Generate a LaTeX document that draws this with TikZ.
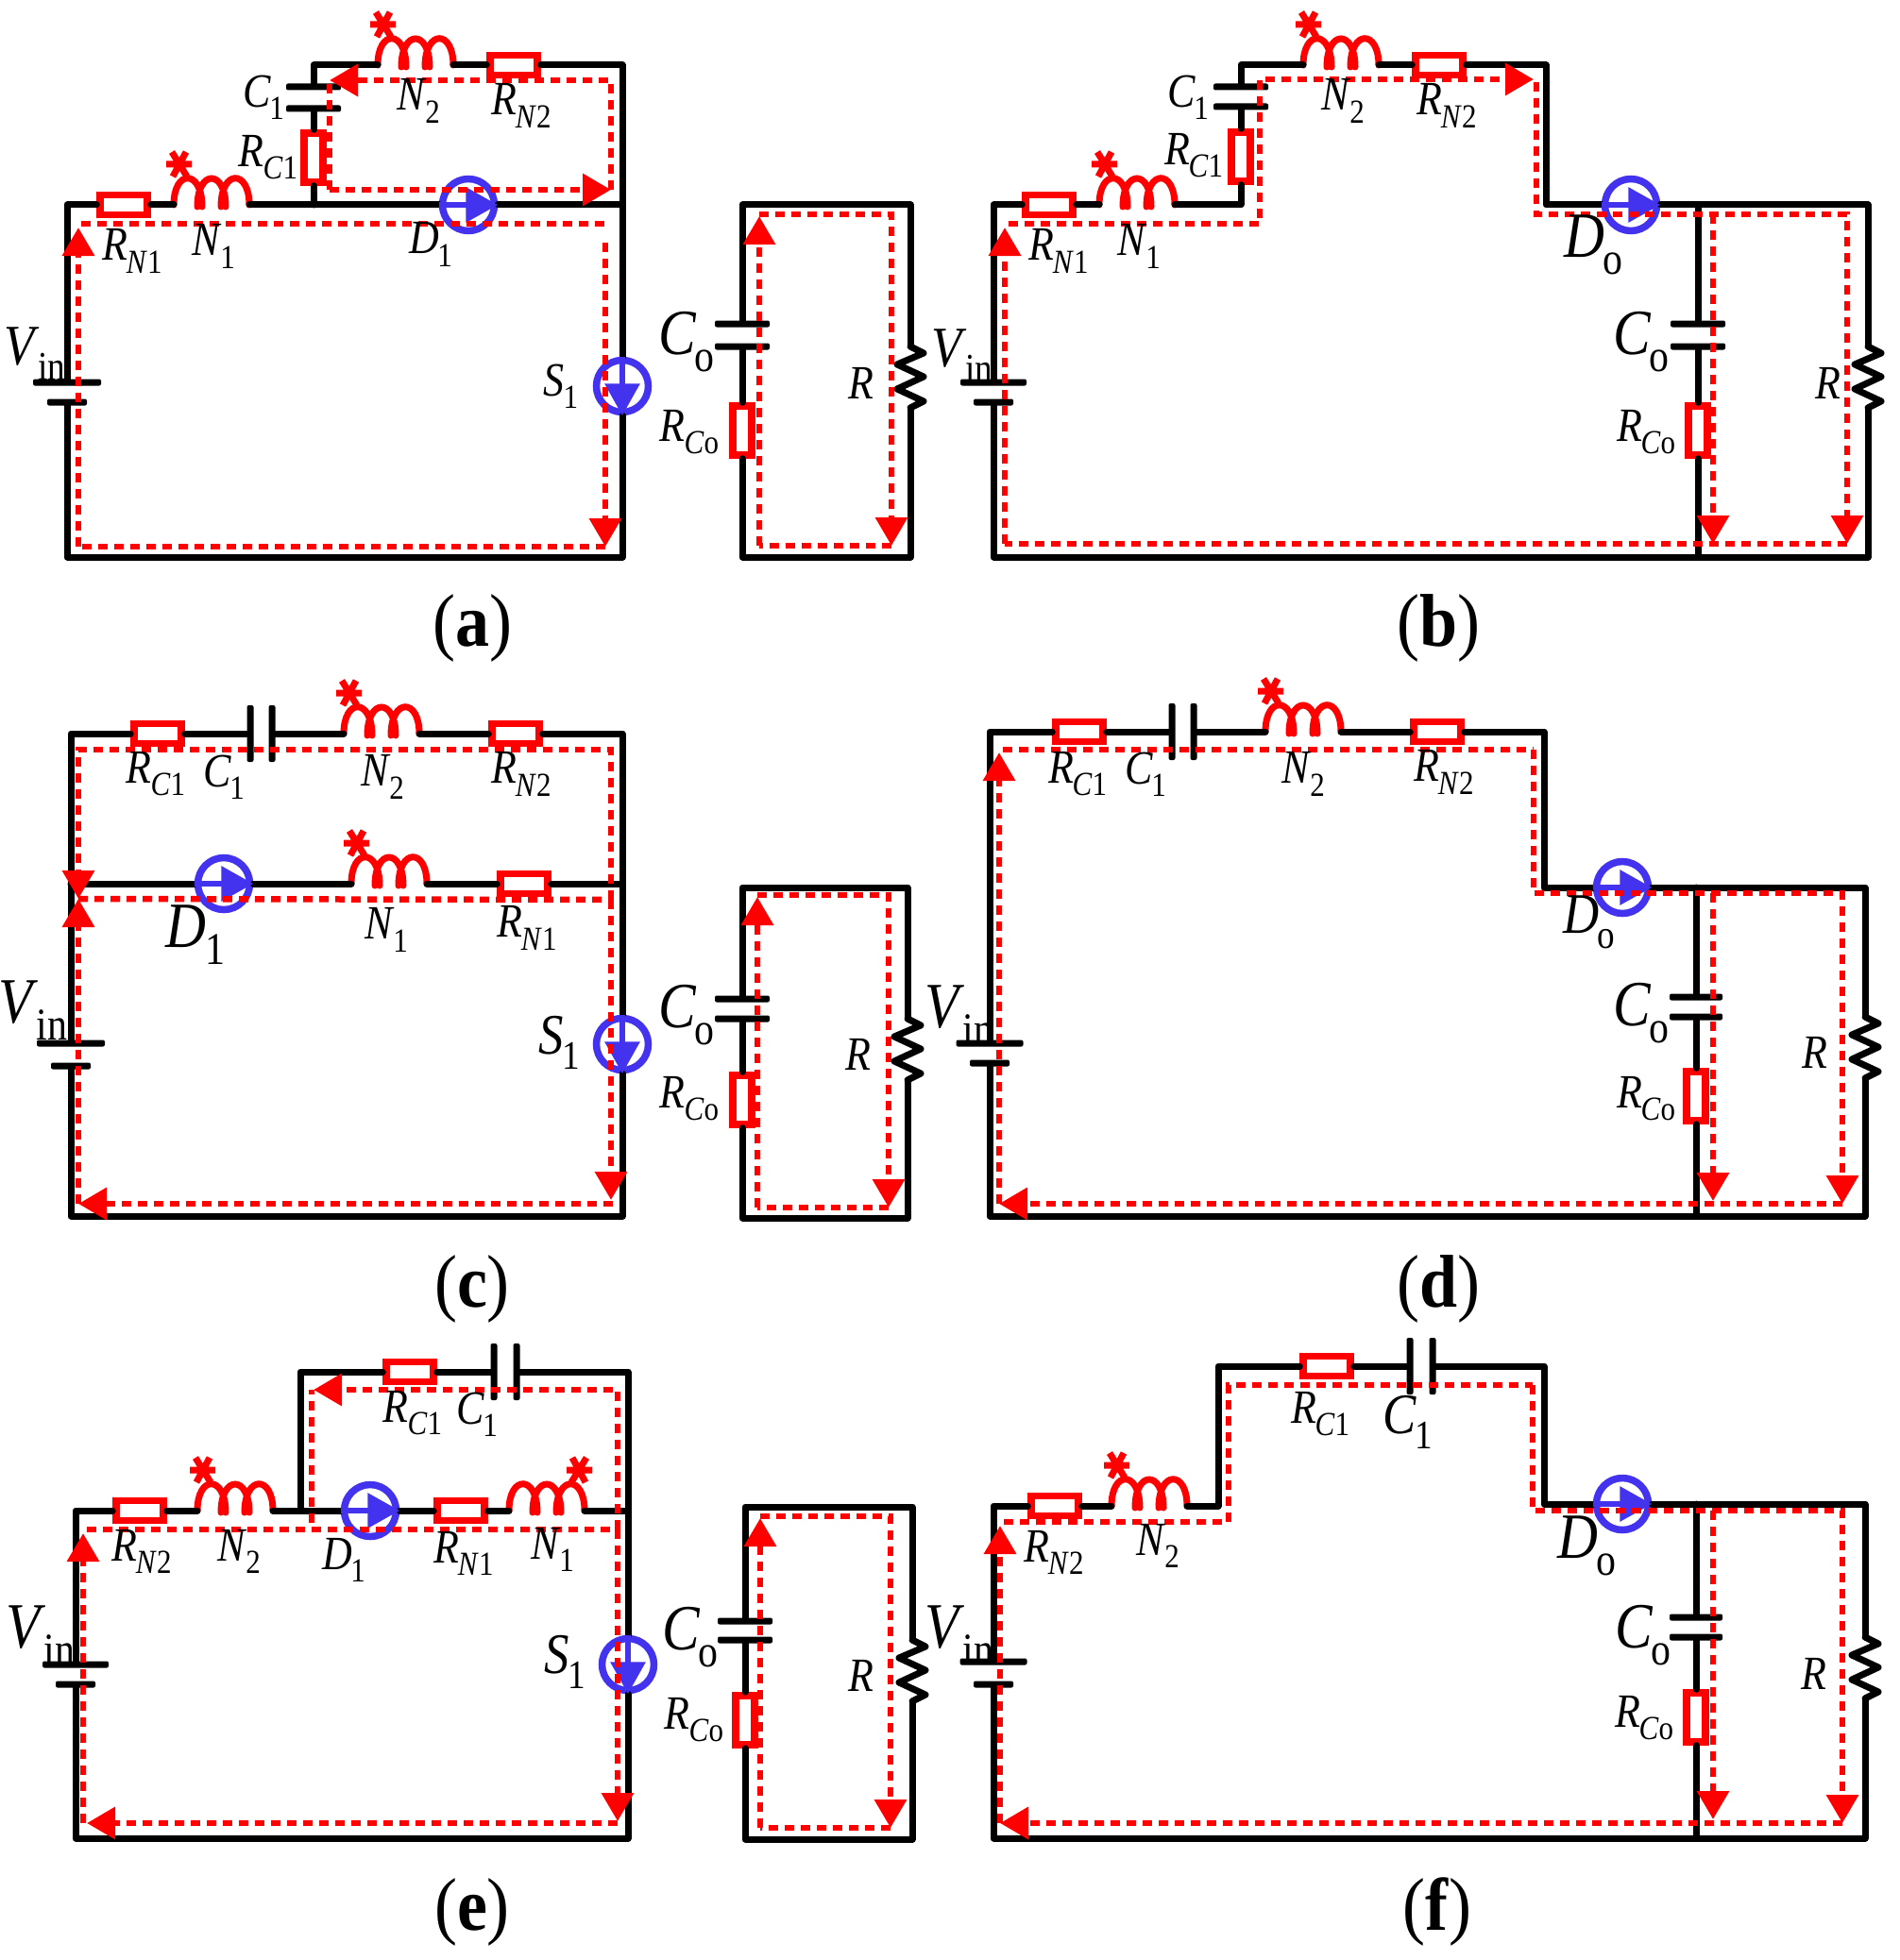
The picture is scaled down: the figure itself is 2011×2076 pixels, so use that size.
\documentclass[tikz,border=0pt]{standalone}
\usepackage{fontspec}
\setmainfont{Liberation Serif}
\usetikzlibrary{arrows.meta,positioning}
\definecolor{devblue}{HTML}{4433EE}
\newcommand{\lbl}[2]{\textit{#1}\kern-.03em\raisebox{-.26em}{\fontsize{31}{31}\selectfont #2}}
\newcommand{\cpt}[1]{(\textbf{#1})}
\tikzset{
  wire/.style={line width=7pt, line cap=round, line join=round},
  res/.style={draw=red, fill=white, line width=7.5pt, minimum width=50pt, minimum height=21pt, inner sep=0pt},
  vres/.style={res, minimum width=20pt, minimum height=52pt},
  plate/.style={fill=black, rounded corners=2pt, inner sep=0pt, minimum height=7pt},
  vplate/.style={fill=black, rounded corners=2pt, inner sep=0pt, minimum width=7pt, minimum height=60pt},
  dev/.style={circle, draw=devblue, line width=7.5pt, minimum size=55pt, inner sep=0pt},
  devarrow/.style={devblue, line width=6.5pt, -{Triangle[length=34pt,width=36pt]}},
  flow/.style={red, line width=6.5pt, dash pattern=on 10pt off 7pt, -{Triangle[length=30pt,width=33pt]}},
  flowline/.style={red, line width=6.5pt, dash pattern=on 10pt off 7pt},
  lab/.style={font=\fontsize{44}{44}\selectfont, inner sep=0pt, yscale=1.15, transform shape},
  labbig/.style={lab, scale=1.2},
  labhuge/.style={lab, scale=1.35},
  capt/.style={font=\fontsize{72}{72}\selectfont, inner sep=0pt, yscale=1.1, transform shape},
  coil/.pic={
    \coordinate (-w) at (0,0);
    \coordinate (-e) at (80,0);
    \draw[red, line width=7pt, line cap=round] (0,0) .. controls (0,-38) and (30,-38) .. (30,2)
      (25,2) .. controls (25,-38) and (55,-38) .. (55,2)
      (50,2) .. controls (50,-38) and (80,-38) .. (80,0);
    \draw[red, line width=7pt] (-2,-56) -- (14,-30) (13,-56) -- (-1,-30) (-8,-43) -- (19,-43);
  },
  zig/.pic={
    \coordinate (-n) at (0,0);
    \coordinate (-s) at (0,65);
    \draw[wire] (0,0) -- (14,7) -- (-14,19) -- (14,32) -- (-14,45) -- (14,58) -- (0,65);
  }
}

\begin{document}
\begin{tikzpicture}[x=1pt, y=-1pt]
    \useasboundingbox (0,0) rectangle (2011,2076);

    % (a)
    \coordinate (aTL) at (71,217);
    \coordinate (aBL) at (71,590);
    \coordinate (aBR) at (659,590);
    \coordinate (aTR) at (659,217);
    \coordinate (aUL) at (332,69);
    \coordinate (aUR) at (659,69);
    \coordinate (aJ) at (332,217);
    \node[plate, minimum width=72pt] (aBat1) at (71,405) {};
    \node[plate, minimum width=42pt] (aBat2) at (71,426) {};
    \node[res] (aRn1) at (131,217) {};
    \pic (aN1) at (184,217) {coil};
    \node[vres] (aRc1) at (332,167) {};
    \node[plate, minimum width=58pt] (aC1a) at (332,92) {};
    \node[plate, minimum width=58pt] (aC1b) at (332,115) {};
    \pic (aN2) at (400,69) {coil};
    \node[res] (aRn2) at (544,69) {};
    \node[dev] (aD1) at (496,217) {};
    \node[dev] (aS1) at (659,409) {};
    \draw[wire] (aBat1) -- (aTL) -- (aRn1) -- (aN1-w) (aN1-e) -- (aD1) -- (aTR) -- (aS1) -- (aBR) -- (aBL) -- (aBat2);
    \draw[wire] (aJ) -- (aRc1) -- (aC1b) (aC1a) -- (aUL) -- (aN2-w) (aN2-e) -- (aRn2) -- (aUR) -- (aTR);
    \draw[devarrow] (aD1.west) -- (aD1.east);
    \draw[devarrow] (aS1.north) -- (aS1.south);

    \coordinate (aOL) at (786,217);
    \coordinate (aOR) at (964,217);
    \coordinate (aOBL) at (786,590);
    \coordinate (aOBR) at (964,590);
    \node[plate, minimum width=58pt] (aCoa) at (786,343) {};
    \node[plate, minimum width=58pt] (aCob) at (786,367) {};
    \node[vres] (aRco) at (786,456) {};
    \pic (aR) at (964,367) {zig};
    \draw[wire] (aCoa) -- (aOL) -- (aOR) -- (aR-n) (aR-s) -- (aOBR) -- (aOBL) -- (aRco) -- (aCob);

    \coordinate (aF1) at (83,579);
    \coordinate (aF2) at (83,241);
    \coordinate (aF3) at (86,237);
    \coordinate (aF4) at (644,237);
    \coordinate (aF5) at (641,257);
    \coordinate (aF6) at (641,579);
    \coordinate (aF7) at (349,201);
    \coordinate (aF8) at (647,201);
    \coordinate (aF9) at (647,85);
    \coordinate (aF10) at (349,85);
    \draw[flow] (aF1) -- (aF2);
    \draw[flowline] (aF3) -- (aF4);
    \draw[flow] (aF5) -- (aF6);
    \draw[flowline] (aF6) -- (aF1);
    \draw[flow] (aF7) -- (aF8);
    \draw[flow] (aF8) -- (aF9) -- (aF10);
    \draw[flowline] (aF7) -- (aF10);
    \coordinate (aF11) at (804,578);
    \coordinate (aF12) at (804,229);
    \coordinate (aF13) at (944,227);
    \coordinate (aF14) at (944,578);
    \draw[flow] (aF11) -- (aF12);
    \draw[flow] (aF12 |- aF13) -- (aF13) -- (aF14);
    \draw[flowline] (aF14) -- (aF11);

    \node[labbig] (aLv) at (37,375) {\lbl{V}{in}};
    \node[lab] (aLrn1) at (140,266) {\lbl{R}{\textit{N}1}};
    \node[lab] (aLn1) at (226,261) {\lbl{N}{1}};
    \node[lab] (aLc1) at (279,103) {\lbl{C}{1}};
    \node[lab] (aLrc1) at (284,167) {\lbl{R}{\textit{C}1}};
    \node[lab] (aLn2) at (443,107) {\lbl{N}{2}};
    \node[lab] (aLrn2) at (552,112) {\lbl{R}{\textit{N}2}};
    \node[lab] (aLd1) at (456,259) {\lbl{D}{1}};
    \node[lab] (aLs1) at (594,409) {\lbl{S}{1}};
    \node[labhuge] (aLco) at (727,362) {\lbl{C}{o}};
    \node[lab] (aLrco) at (730,458) {\lbl{R}{\textit{C}o}};
    \node[lab] (aLr) at (912,406) {\textit{R}};
    \node[capt] (aCap) at (500,665) {\cpt{a}};

    % (b)
    \coordinate (bTL) at (1052,217);
    \coordinate (bBL) at (1052,590);
    \coordinate (bBR) at (1978,590);
    \coordinate (bTR) at (1978,217);
    \coordinate (bJ1) at (1314,217);
    \coordinate (bUL) at (1314,69);
    \coordinate (bUR) at (1637,69);
    \coordinate (bJ2) at (1637,217);
    \coordinate (bJt) at (1798,217);
    \coordinate (bJb) at (1798,590);
    \node[plate, minimum width=70pt] (bBat1) at (1052,405) {};
    \node[plate, minimum width=42pt] (bBat2) at (1052,426) {};
    \node[res] (bRn1) at (1111,217) {};
    \pic (bN1) at (1164,217) {coil};
    \node[vres] (bRc1) at (1314,166) {};
    \node[plate, minimum width=58pt] (bC1a) at (1314,92) {};
    \node[plate, minimum width=58pt] (bC1b) at (1314,113) {};
    \pic (bN2) at (1380,69) {coil};
    \node[res] (bRn2) at (1524,69) {};
    \node[dev] (bDo) at (1727,217) {};
    \node[plate, minimum width=58pt] (bCoa) at (1798,343) {};
    \node[plate, minimum width=58pt] (bCob) at (1798,367) {};
    \node[vres] (bRco) at (1798,456) {};
    \pic (bR) at (1978,367) {zig};
    \draw[wire] (bBat1) -- (bTL) -- (bRn1) -- (bN1-w) (bN1-e) -- (bJ1) -- (bRc1) -- (bC1b) (bC1a) -- (bUL) -- (bN2-w) (bN2-e) -- (bRn2) -- (bUR) -- (bJ2) -- (bDo) -- (bTR) -- (bR-n) (bR-s) -- (bBR) -- (bBL) -- (bBat2);
    \draw[wire] (bJt) -- (bCoa) (bCob) -- (bRco) -- (bJb);
    \draw[devarrow] (bDo.west) -- (bDo.east);

    \coordinate (bF1) at (1064,576);
    \coordinate (bF2) at (1064,241);
    \coordinate (bF3) at (1068,237);
    \coordinate (bF4) at (1334,237);
    \coordinate (bF5) at (1334,84);
    \coordinate (bF6) at (1624,84);
    \coordinate (bF7) at (1627,87);
    \coordinate (bF8) at (1627,227);
    \coordinate (bF9) at (1956,227);
    \coordinate (bF10) at (1956,576);
    \coordinate (bF11) at (1814,227);
    \coordinate (bF12) at (1814,576);
    \draw[flow] (bF1) -- (bF2);
    \draw[flow] (bF3) -- (bF4) -- (bF5) -- (bF6);
    \draw[flow] (bF7) -- (bF8) -- (bF9) -- (bF10);
    \draw[flow] (bF11) -- (bF12);
    \draw[flowline] (bF10) -- (bF1);

    \node[labbig] (bLv) at (1019,377) {\lbl{V}{in}};
    \node[lab] (bLrn1) at (1121,266) {\lbl{R}{\textit{N}1}};
    \node[lab] (bLn1) at (1206,261) {\lbl{N}{1}};
    \node[lab] (bLc1) at (1258,103) {\lbl{C}{1}};
    \node[lab] (bLrc1) at (1264,165) {\lbl{R}{\textit{C}1}};
    \node[lab] (bLn2) at (1422,107) {\lbl{N}{2}};
    \node[lab] (bLrn2) at (1532,112) {\lbl{R}{\textit{N}2}};
    \node[labhuge] (bLdo) at (1687,259) {\lbl{D}{o}};
    \node[labhuge] (bLco) at (1738,362) {\lbl{C}{o}};
    \node[lab] (bLrco) at (1743,458) {\lbl{R}{\textit{C}o}};
    \node[lab] (bLr) at (1936,406) {\textit{R}};
    \node[capt] (bCap) at (1523,665) {\cpt{b}};

    % (c)
    \coordinate (cTL) at (75,777);
    \coordinate (cTR) at (659,777);
    \coordinate (cML) at (75,936);
    \coordinate (cMR) at (659,936);
    \coordinate (cBL) at (75,1288);
    \coordinate (cBR) at (659,1288);
    \node[plate, minimum width=72pt] (cBat1) at (75,1105) {};
    \node[plate, minimum width=42pt] (cBat2) at (75,1129) {};
    \node[res] (cRc1) at (167,777) {};
    \node[vplate] (cC1a) at (265,777) {};
    \node[vplate] (cC1b) at (288,777) {};
    \pic (cN2) at (364,777) {coil};
    \node[res] (cRn2) at (546,777) {};
    \node[dev] (cD1) at (237,936) {};
    \pic (cN1) at (372,936) {coil};
    \node[res] (cRn1) at (555,936) {};
    \node[dev] (cS1) at (659,1106) {};
    \draw[wire] (cBat1) -- (cTL) -- (cRc1) -- (cC1a) (cC1b) -- (cN2-w) (cN2-e) -- (cRn2) -- (cTR) -- (cS1) -- (cBR) -- (cBL) -- (cBat2);
    \draw[wire] (cML) -- (cD1) -- (cN1-w) (cN1-e) -- (cRn1) -- (cMR);
    \draw[devarrow] (cD1.west) -- (cD1.east);
    \draw[devarrow] (cS1.north) -- (cS1.south);

    \coordinate (cOL) at (786,940);
    \coordinate (cOR) at (961,940);
    \coordinate (cOBL) at (786,1290);
    \coordinate (cOBR) at (961,1290);
    \node[plate, minimum width=58pt] (cCoa) at (786,1058) {};
    \node[plate, minimum width=58pt] (cCob) at (786,1079) {};
    \node[vres] (cRco) at (786,1165) {};
    \pic (cR) at (961,1079) {zig};
    \draw[wire] (cCoa) -- (cOL) -- (cOR) -- (cR-n) (cR-s) -- (cOBR) -- (cOBL) -- (cRco) -- (cCob);

    \coordinate (cF1) at (83,1275);
    \coordinate (cF2) at (83,952);
    \coordinate (cF3) at (647,953);
    \coordinate (cF4) at (647,794);
    \coordinate (cF5) at (83,794);
    \coordinate (cF6) at (647,1271);
    \coordinate (cF7) at (649,1275);
    \draw[flow] (cF1) -- (cF2);
    \draw[flow] (cF3) -- (cF4) -- (cF5) -- (cF2);
    \draw[flowline] (cF2) -- (cF3);
    \draw[flow] (cF3) -- (cF6);
    \draw[flow] (cF7) -- (cF1);
    \coordinate (cF8) at (802,1279);
    \coordinate (cF9) at (802,950);
    \coordinate (cF10) at (802,948);
    \coordinate (cF11) at (941,948);
    \coordinate (cF12) at (941,1279);
    \draw[flow] (cF8) -- (cF9);
    \draw[flow] (cF10) -- (cF11) -- (cF12);
    \draw[flowline] (cF12) -- (cF8);

    \node[labhuge] (cLv) at (35,1070) {\lbl{V}{in}};
    \node[lab] (cLrc1) at (165,820) {\lbl{R}{\textit{C}1}};
    \node[lab] (cLc1) at (237,823) {\lbl{C}{1}};
    \node[lab] (cLn2) at (405,823) {\lbl{N}{2}};
    \node[lab] (cLrn2) at (552,820) {\lbl{R}{\textit{N}2}};
    \node[labhuge] (cLd1) at (207,990) {\lbl{D}{1}};
    \node[lab] (cLn1) at (409,985) {\lbl{N}{1}};
    \node[lab] (cLrn1) at (558,983) {\lbl{R}{\textit{N}1}};
    \node[labbig] (cLs1) at (592,1104) {\lbl{S}{1}};
    \node[labhuge] (cLco) at (727,1075) {\lbl{C}{o}};
    \node[lab] (cLrco) at (730,1164) {\lbl{R}{\textit{C}o}};
    \node[lab] (cLr) at (909,1117) {\textit{R}};
    \node[capt] (cCap) at (500,1365) {\cpt{c}};

    % (d)
    \coordinate (dTL) at (1048,775);
    \coordinate (dUR) at (1635,775);
    \coordinate (dJ) at (1635,940);
    \coordinate (dTR) at (1975,940);
    \coordinate (dBR) at (1975,1288);
    \coordinate (dBL) at (1048,1288);
    \coordinate (dJt) at (1796,940);
    \coordinate (dJb) at (1796,1288);
    \node[plate, minimum width=71pt] (dBat1) at (1048,1105) {};
    \node[plate, minimum width=42pt] (dBat2) at (1048,1126) {};
    \node[res] (dRc1) at (1143,775) {};
    \node[vplate] (dC1a) at (1241,775) {};
    \node[vplate] (dC1b) at (1264,775) {};
    \pic (dN2) at (1340,775) {coil};
    \node[res] (dRn2) at (1522,775) {};
    \node[dev] (dDo) at (1718,940) {};
    \node[plate, minimum width=56pt] (dCoa) at (1796,1056) {};
    \node[plate, minimum width=56pt] (dCob) at (1796,1077) {};
    \node[vres] (dRco) at (1796,1161) {};
    \pic (dR) at (1975,1077) {zig};
    \draw[wire] (dBat1) -- (dTL) -- (dRc1) -- (dC1a) (dC1b) -- (dN2-w) (dN2-e) -- (dRn2) -- (dUR) -- (dJ) -- (dDo) -- (dTR) -- (dR-n) (dR-s) -- (dBR) -- (dBL) -- (dBat2);
    \draw[wire] (dJt) -- (dCoa) (dCob) -- (dRco) -- (dJb);
    \draw[devarrow] (dDo.west) -- (dDo.east);

    \coordinate (dF1) at (1058,1275);
    \coordinate (dF2) at (1058,797);
    \coordinate (dF3) at (1062,794);
    \coordinate (dF4) at (1624,794);
    \coordinate (dF5) at (1624,946);
    \coordinate (dF6) at (1951,946);
    \coordinate (dF7) at (1951,1275);
    \coordinate (dF8) at (1814,946);
    \coordinate (dF9) at (1814,1272);
    \draw[flow] (dF1) -- (dF2);
    \draw[flowline] (dF3) -- (dF4);
    \draw[flow] (dF4) -- (dF5) -- (dF6) -- (dF7);
    \draw[flow] (dF8) -- (dF9);
    \draw[flow] (dF7) -- (dF1);

    \node[labhuge] (dLv) at (1016,1075) {\lbl{V}{in}};
    \node[lab] (dLrc1) at (1141,820) {\lbl{R}{\textit{C}1}};
    \node[lab] (dLc1) at (1213,820) {\lbl{C}{1}};
    \node[lab] (dLn2) at (1380,820) {\lbl{N}{2}};
    \node[lab] (dLrn2) at (1529,818) {\lbl{R}{\textit{N}2}};
    \node[labbig] (dLdo) at (1683,977) {\lbl{D}{o}};
    \node[labhuge] (dLco) at (1738,1073) {\lbl{C}{o}};
    \node[lab] (dLrco) at (1743,1164) {\lbl{R}{\textit{C}o}};
    \node[lab] (dLr) at (1922,1115) {\textit{R}};
    \node[capt] (dCap) at (1523,1365) {\cpt{d}};

    % (e)
    \coordinate (eTL) at (80,1600);
    \coordinate (eBL) at (80,1947);
    \coordinate (eBR) at (665,1947);
    \coordinate (eMR) at (665,1600);
    \coordinate (eUR) at (665,1453);
    \coordinate (eUL) at (318,1453);
    \coordinate (eJ) at (318,1600);
    \node[plate, minimum width=70pt] (eBat1) at (80,1763) {};
    \node[plate, minimum width=42pt] (eBat2) at (80,1784) {};
    \node[res] (eRn2) at (148,1600) {};
    \pic (eN2) at (209,1600) {coil};
    \node[dev] (eD1) at (392,1600) {};
    \node[res] (eRn1) at (488,1600) {};
    \pic[xscale=-1] (eN1) at (619,1600) {coil};
    \node[res] (eRc1) at (434,1453) {};
    \node[vplate] (eC1a) at (523,1453) {};
    \node[vplate] (eC1b) at (547,1453) {};
    \node[dev] (eS1) at (665,1763) {};
    \draw[wire] (eBat1) -- (eTL) -- (eRn2) -- (eN2-w) (eN2-e) -- (eD1) -- (eRn1) -- (eN1-e) (eN1-w) -- (eMR) -- (eS1) -- (eBR) -- (eBL) -- (eBat2);
    \draw[wire] (eJ) -- (eUL) -- (eRc1) -- (eC1a) (eC1b) -- (eUR) -- (eMR);
    \draw[devarrow] (eD1.west) -- (eD1.east);
    \draw[devarrow] (eS1.north) -- (eS1.south);

    \coordinate (eOL) at (789,1596);
    \coordinate (eOR) at (966,1596);
    \coordinate (eOBL) at (789,1948);
    \coordinate (eOBR) at (966,1948);
    \node[plate, minimum width=58pt] (eCoa) at (789,1717) {};
    \node[plate, minimum width=58pt] (eCob) at (789,1737) {};
    \node[vres] (eRco) at (789,1822) {};
    \pic (eR) at (966,1737) {zig};
    \draw[wire] (eCoa) -- (eOL) -- (eOR) -- (eR-n) (eR-s) -- (eOBR) -- (eOBL) -- (eRco) -- (eCob);

    \coordinate (eF1) at (88,1931);
    \coordinate (eF2) at (88,1624);
    \coordinate (eF3) at (92,1620);
    \coordinate (eF4) at (654,1620);
    \coordinate (eF5) at (654,1929);
    \coordinate (eF6) at (654,1472);
    \coordinate (eF7) at (332,1472);
    \coordinate (eF8) at (330,1613);
    \coordinate (eF9) at (330,1472);
    \coordinate (eF10) at (654,1931);
    \coordinate (eF11) at (92,1931);
    \draw[flow] (eF1) -- (eF2);
    \draw[flowline] (eF3) -- (eF4);
    \draw[flow] (eF4) -- (eF5);
    \draw[flow] (eF4) -- (eF6) -- (eF7);
    \draw[flowline] (eF8) -- (eF9);
    \draw[flow] (eF10) -- (eF11);
    \coordinate (eF12) at (805,1936);
    \coordinate (eF13) at (805,1608);
    \coordinate (eF14) at (805,1606);
    \coordinate (eF15) at (943,1606);
    \coordinate (eF16) at (943,1936);
    \draw[flow] (eF12) -- (eF13);
    \draw[flow] (eF14) -- (eF15) -- (eF16);
    \draw[flowline] (eF16) -- (eF12);

    \node[labhuge] (eLv) at (43,1732) {\lbl{V}{in}};
    \node[lab] (eLrc1) at (437,1497) {\lbl{R}{\textit{C}1}};
    \node[lab] (eLc1) at (505,1498) {\lbl{C}{1}};
    \node[lab] (eLrn2) at (150,1643) {\lbl{R}{\textit{N}2}};
    \node[lab] (eLn2) at (253,1643) {\lbl{N}{2}};
    \node[lab] (eLd1) at (364,1652) {\lbl{D}{1}};
    \node[lab] (eLrn1) at (491,1645) {\lbl{R}{\textit{N}1}};
    \node[lab] (eLn1) at (585,1641) {\lbl{N}{1}};
    \node[labbig] (eLs1) at (598,1760) {\lbl{S}{1}};
    \node[labhuge] (eLco) at (731,1734) {\lbl{C}{o}};
    \node[lab] (eLrco) at (735,1822) {\lbl{R}{\textit{C}o}};
    \node[lab] (eLr) at (912,1775) {\textit{R}};
    \node[capt] (eCap) at (500,2025) {\cpt{e}};

    % (f)
    \coordinate (fTL) at (1052,1595);
    \coordinate (fS1b) at (1290,1595);
    \coordinate (fS1t) at (1290,1447);
    \coordinate (fS2t) at (1635,1447);
    \coordinate (fS2b) at (1635,1593);
    \coordinate (fTR) at (1975,1593);
    \coordinate (fBR) at (1975,1947);
    \coordinate (fBL) at (1052,1947);
    \coordinate (fJt) at (1796,1593);
    \coordinate (fJb) at (1796,1947);
    \node[plate, minimum width=71pt] (fBat1) at (1052,1760) {};
    \node[plate, minimum width=42pt] (fBat2) at (1052,1784) {};
    \node[res] (fRn2) at (1117,1595) {};
    \pic (fN2) at (1177,1595) {coil};
    \node[res] (fRc1) at (1405,1447) {};
    \node[vplate] (fC1a) at (1493,1447) {};
    \node[vplate] (fC1b) at (1517,1447) {};
    \node[dev] (fDo) at (1718,1593) {};
    \node[plate, minimum width=56pt] (fCoa) at (1796,1713) {};
    \node[plate, minimum width=56pt] (fCob) at (1796,1734) {};
    \node[vres] (fRco) at (1796,1819) {};
    \pic (fR) at (1975,1734) {zig};
    \draw[wire] (fBat1) -- (fTL) -- (fRn2) -- (fN2-w) (fN2-e) -- (fS1b) -- (fS1t) -- (fRc1) -- (fC1a) (fC1b) -- (fS2t) -- (fS2b) -- (fDo) -- (fTR) -- (fR-n) (fR-s) -- (fBR) -- (fBL) -- (fBat2);
    \draw[wire] (fJt) -- (fCoa) (fCob) -- (fRco) -- (fJb);
    \draw[devarrow] (fDo.west) -- (fDo.east);

    \coordinate (fF1) at (1059,1931);
    \coordinate (fF2) at (1059,1616);
    \coordinate (fF3) at (1063,1612);
    \coordinate (fF4) at (1301,1612);
    \coordinate (fF5) at (1301,1467);
    \coordinate (fF6) at (1623,1467);
    \coordinate (fF7) at (1623,1600);
    \coordinate (fF8) at (1951,1600);
    \coordinate (fF9) at (1951,1931);
    \coordinate (fF10) at (1814,1600);
    \coordinate (fF11) at (1814,1927);
    \draw[flow] (fF1) -- (fF2);
    \draw[flowline] (fF3) -- (fF4) -- (fF5) -- (fF6);
    \draw[flow] (fF6) -- (fF7) -- (fF8) -- (fF9);
    \draw[flow] (fF10) -- (fF11);
    \draw[flow] (fF9) -- (fF1);

    \node[labhuge] (fLv) at (1016,1732) {\lbl{V}{in}};
    \node[lab] (fLrn2) at (1116,1644) {\lbl{R}{\textit{N}2}};
    \node[lab] (fLn2) at (1226,1637) {\lbl{N}{2}};
    \node[lab] (fLrc1) at (1398,1498) {\lbl{R}{\textit{C}1}};
    \node[labbig] (fLc1) at (1491,1506) {\lbl{C}{1}};
    \node[labhuge] (fLdo) at (1680,1637) {\lbl{D}{o}};
    \node[labhuge] (fLco) at (1740,1732) {\lbl{C}{o}};
    \node[lab] (fLrco) at (1741,1820) {\lbl{R}{\textit{C}o}};
    \node[lab] (fLr) at (1921,1773) {\textit{R}};
    \node[capt] (fCap) at (1522,2025) {\cpt{f}};
\end{tikzpicture}
\end{document}
